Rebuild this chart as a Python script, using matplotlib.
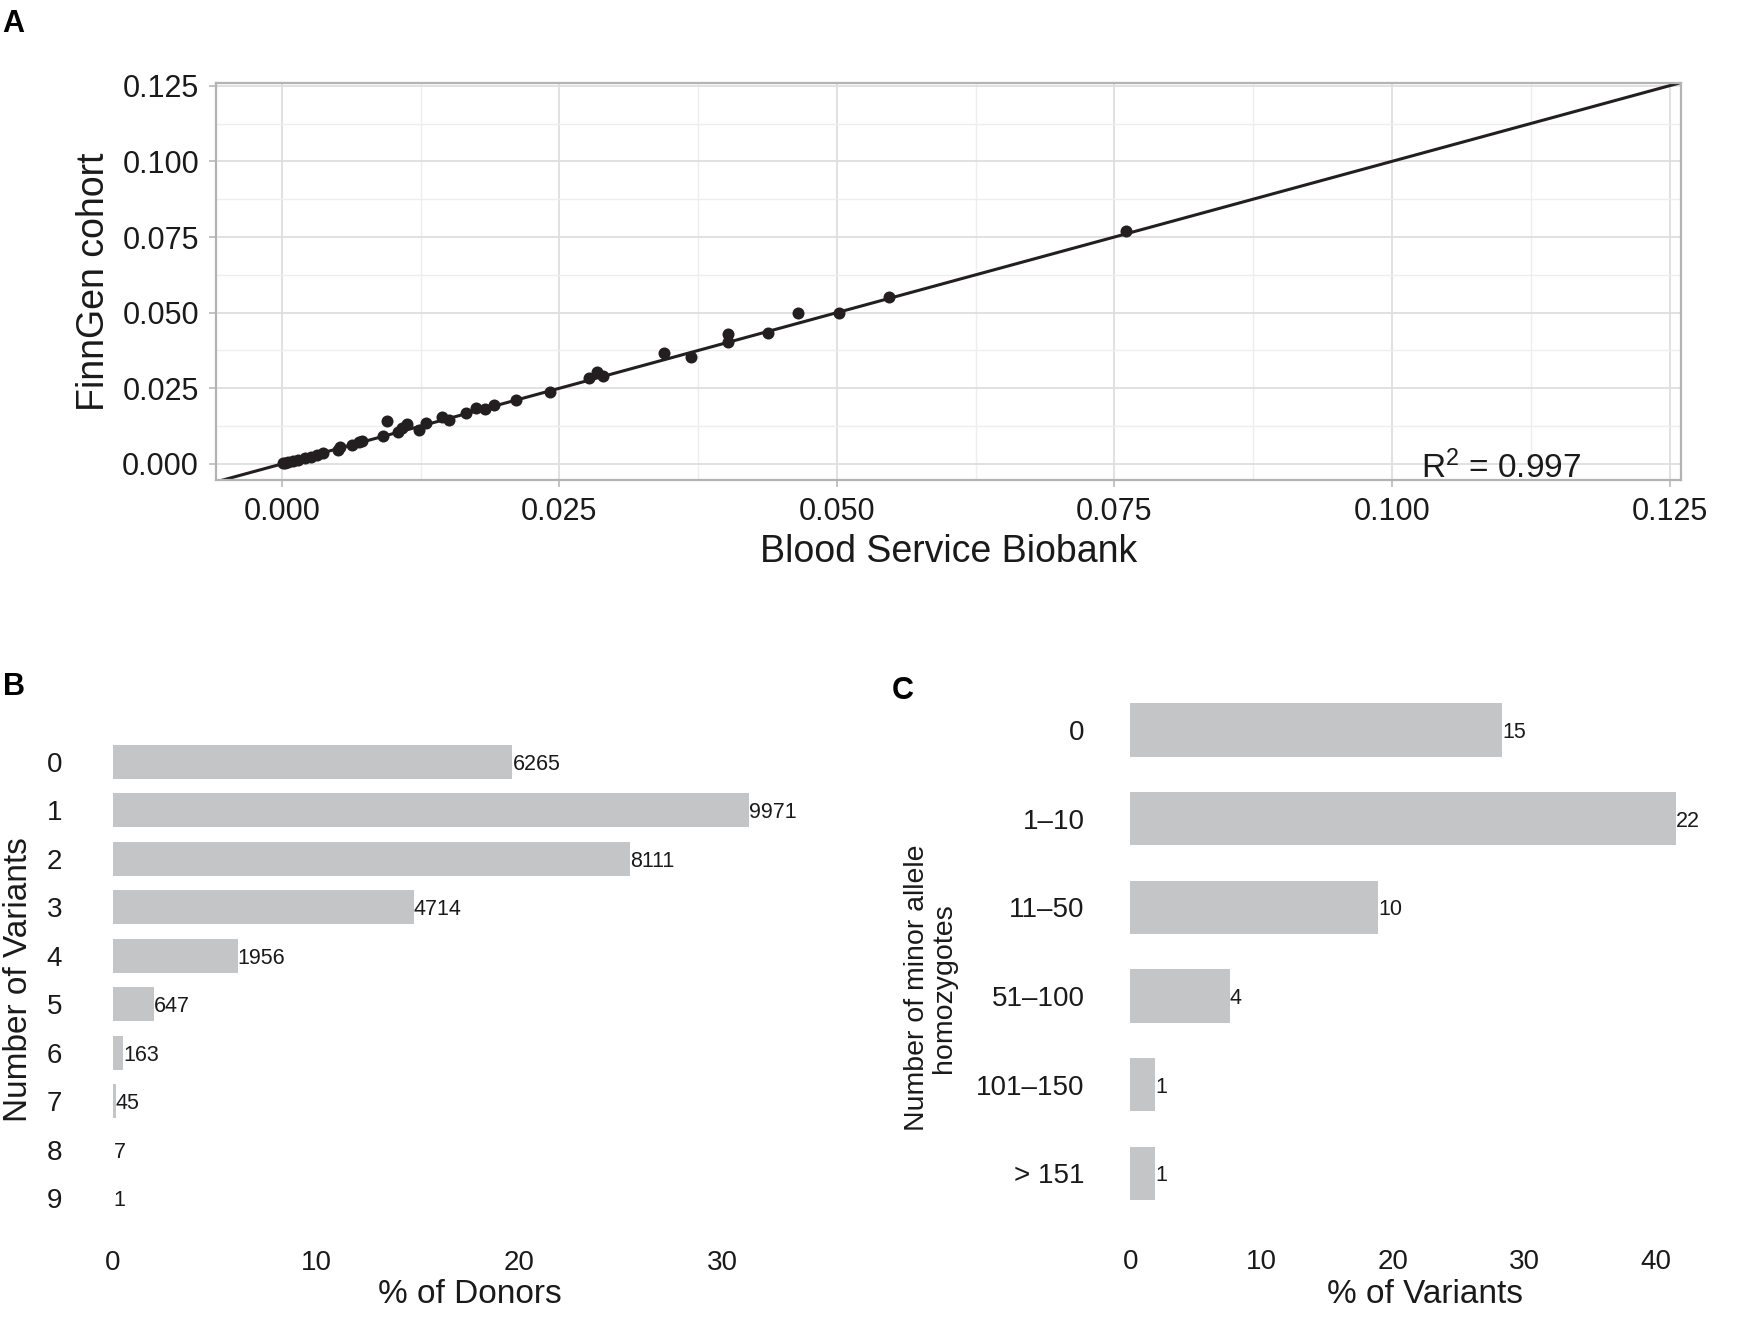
import matplotlib
matplotlib.use("Agg")
import matplotlib.pyplot as plt
from matplotlib.ticker import MultipleLocator, FormatStrFormatter

plt.rcParams['font.family'] = ['Liberation Sans', 'DejaVu Sans']
plt.rcParams['mathtext.fontset'] = 'custom'
plt.rcParams['mathtext.rm'] = 'Liberation Sans'
plt.rcParams['mathtext.it'] = 'Liberation Sans:italic'

# Panel A: allele frequencies, Blood Service Biobank vs FinnGen
biobank_freq = [0.00015, 0.00030, 0.00059, 0.00104, 0.00150, 0.00210, 0.00264,
                0.00315, 0.00369, 0.00504, 0.00525, 0.00630, 0.00699, 0.00726,
                0.00909, 0.00951, 0.01044, 0.01080, 0.01125, 0.01236, 0.01296,
                0.01440, 0.01506, 0.01659, 0.01747, 0.01831, 0.01911, 0.02110,
                0.02416, 0.02769, 0.02836, 0.02896, 0.03442, 0.03685, 0.04016,
                0.04016, 0.04381, 0.04646, 0.05020, 0.05467, 0.07600]
finngen_freq = [0.00022, 0.00022, 0.00055, 0.00099, 0.00132, 0.00187, 0.00242,
                0.00297, 0.00353, 0.00463, 0.00551, 0.00628, 0.00716, 0.00760,
                0.00936, 0.01411, 0.01068, 0.01179, 0.01311, 0.01123, 0.01365,
                0.01563, 0.01454, 0.01675, 0.01840, 0.01807, 0.01949, 0.02114,
                0.02380, 0.02831, 0.03049, 0.02907, 0.03657, 0.03525, 0.04285,
                0.04040, 0.04318, 0.04978, 0.04978, 0.05507, 0.07707]
r_squared = 0.997

# Panel B: number of variants per donor
n_variants = ["0", "1", "2", "3", "4", "5", "6", "7", "8", "9"]
donor_counts = [6265, 9971, 8111, 4714, 1956, 647, 163, 45, 7, 1]
donor_pct = [19.65, 31.28, 25.44, 14.79, 6.14, 2.03, 0.51, 0.14, 0.02, 0.003]

# Panel C: number of minor allele homozygotes per variant
homo_bins = ["0", "1\u201310", "11\u201350", "51\u2013100", "101\u2013150", "> 151"]
variant_counts = [15, 22, 10, 4, 1, 1]
variant_pct = [28.30, 41.51, 18.87, 7.55, 1.89, 1.89]

TEXT = '#1a1a1a'
BAR = '#c4c5c7'

fig = plt.figure(figsize=(17.5, 13.19), dpi=100)

# ---------------- A ----------------
axA = fig.add_axes([0.1233, 0.6361, 0.9605 - 0.1233, 0.9368 - 0.6361])
axA.set_xlim(-0.00594, 0.12602)
axA.set_ylim(-0.00529, 0.12577)
axA.xaxis.set_major_locator(MultipleLocator(0.025))
axA.yaxis.set_major_locator(MultipleLocator(0.025))
axA.xaxis.set_minor_locator(MultipleLocator(0.0125))
axA.yaxis.set_minor_locator(MultipleLocator(0.0125))
axA.grid(which='major', color='#dedede', linewidth=1.3)
axA.grid(which='minor', color='#eeeeee', linewidth=1.0)
axA.set_axisbelow(True)
for s in axA.spines.values():
    s.set_color('#b3b3b3')
    s.set_linewidth(1.6)
axA.tick_params(which='major', length=5, width=1.1, color='#b3b3b3',
                labelsize=22, labelcolor=TEXT, pad=7)
axA.tick_params(which='minor', length=0)
axA.xaxis.set_major_formatter(FormatStrFormatter('%.3f'))
axA.yaxis.set_major_formatter(FormatStrFormatter('%.3f'))

axA.axline((0, 0), slope=1, color='#231f20', linewidth=2.2, zorder=2)
axA.scatter(biobank_freq, finngen_freq, s=75, color='#231f20', zorder=3,
            linewidths=0)
axA.text(0.1098, -0.00463, 'R$^{2}$ = %.3f' % r_squared, fontsize=24,
         ha='center', va='baseline', color=TEXT)

axA.set_xlabel('Blood Service Biobank', fontsize=27, color=TEXT, va='center')
axA.set_ylabel('FinnGen cohort', fontsize=27, color=TEXT, va='center')
axA.xaxis.set_label_coords(0.5, -0.181)
axA.yaxis.set_label_coords(-0.0834, 0.5)

# ---------------- B ----------------
axB = fig.add_axes([0.0443, 0.0695, 0.4931 - 0.0443, 0.4446 - 0.0695])
yb = range(len(n_variants))
axB.barh(yb, donor_pct, height=0.7, color=BAR)
for i, (p, c) in enumerate(zip(donor_pct, donor_counts)):
    axB.text(p, i, str(c), ha='left', va='center_baseline', fontsize=15.5,
             color=TEXT)
axB.set_xlim(-1.75, 36.9)
axB.set_ylim(len(n_variants) - 0.4, -0.6)
axB.set_yticks(list(yb))
axB.set_yticklabels(n_variants)
axB.set_xticks([0, 10, 20, 30])
for s in axB.spines.values():
    s.set_visible(False)
axB.tick_params(length=0, labelsize=20, labelcolor=TEXT)
axB.tick_params(axis='x', pad=16)
axB.tick_params(axis='y', pad=11)
axB.set_xlabel('% of Donors', fontsize=24, color=TEXT, va='center')
axB.set_ylabel('Number of Variants', fontsize=24, color=TEXT, va='center')
axB.xaxis.set_label_coords(0.5, -0.135)
axB.yaxis.set_label_coords(-0.0753, 0.5)

# ---------------- C ----------------
axC = fig.add_axes([0.6294, 0.0701, 0.9994 - 0.6294, 0.4869 - 0.0701])
yc = range(len(homo_bins))
axC.barh(yc, variant_pct, height=0.6, color=BAR)
for i, (p, c) in enumerate(zip(variant_pct, variant_counts)):
    axC.text(p, i, str(c), ha='left', va='center_baseline', fontsize=15.5,
             color=TEXT)
axC.set_xlim(-2.2, 47.1)
axC.set_ylim(len(homo_bins) - 0.4, -0.6)
axC.set_yticks(list(yc))
axC.set_yticklabels(homo_bins)
axC.set_xticks([0, 10, 20, 30, 40])
for s in axC.spines.values():
    s.set_visible(False)
axC.tick_params(length=0, labelsize=20, labelcolor=TEXT)
axC.tick_params(axis='x', pad=16)
axC.tick_params(axis='y', pad=12)
axC.set_xlabel('% of Variants', fontsize=24, color=TEXT, va='center')
axC.set_ylabel('Number of minor allele\nhomozygotes', fontsize=20.5,
               color=TEXT, linespacing=1.05, va='center')
axC.xaxis.set_label_coords(0.5, -0.123)
axC.yaxis.set_label_coords(-0.2645, 0.434)

# panel letters
fig.text(0.001, 0.993, 'A', fontsize=22, fontweight='bold', ha='left', va='top')
fig.text(0.0017, 0.4905, 'B', fontsize=22, fontweight='bold', ha='left', va='top')
fig.text(0.5097, 0.4875, 'C', fontsize=22, fontweight='bold', ha='left', va='top')

fig.savefig('out.png', dpi=100, facecolor='white')
